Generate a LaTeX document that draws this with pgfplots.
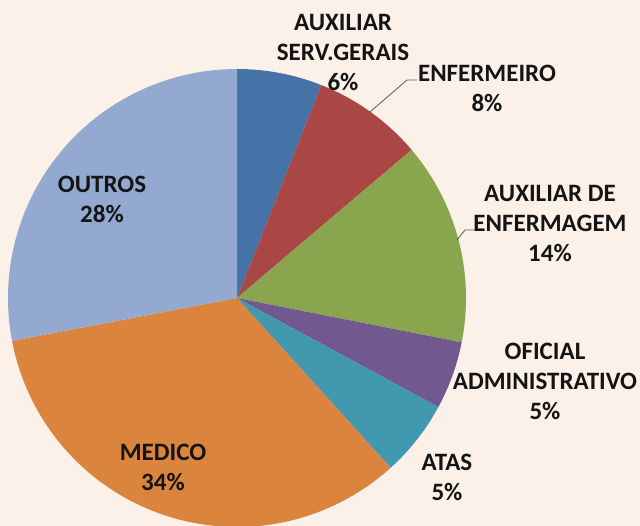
\documentclass[border=0pt]{standalone}
\usepackage{pgfplots}
\pgfplotsset{compat=1.18}
\usepackage{pgfplotstable}
\usepackage{fontspec}
\setmainfont{Carlito}
\definecolor{bg}{HTML}{FCF1E9}
\definecolor{pie0}{HTML}{4572A7}
\definecolor{pie1}{HTML}{AA4643}
\definecolor{pie2}{HTML}{89A54E}
\definecolor{pie3}{HTML}{71588F}
\definecolor{pie4}{HTML}{4198AF}
\definecolor{pie5}{HTML}{DB843D}
\definecolor{pie6}{HTML}{93A9CF}
\pgfplotstableread{
label value
AUXILIAR_SERV.GERAIS 6.0
ENFERMEIRO 7.8
AUXILIAR_DE_ENFERMAGEM 14.3
OFICIAL_ADMINISTRATIVO 4.8
ATAS 5.4
MEDICO 33.7
OUTROS 28.0
}\piedata
\begin{document}
\begin{tikzpicture}
\fill[bg] (0,0) rectangle (640bp,526bp);
\useasboundingbox (0,0) rectangle (640bp,526bp);
\begin{axis}[
  at={(0,0)}, anchor=south west,
  hide axis, scale only axis,
  width=640bp, height=526bp,
  xmin=-237, xmax=403, ymin=-228, ymax=298,
  clip=true,
]
\def\cum{0}
\pgfplotsforeachungrouped \i in {0,...,6} {
  \pgfplotstablegetelem{\i}{value}\of\piedata
  \let\val\pgfplotsretval
  \pgfmathsetmacro\a{90-3.6*\cum}
  \pgfmathsetmacro\b{90-3.6*(\cum+\val)}
  \edef\cmd{\noexpand\addplot[fill=pie\i, draw=none, domain=\b:\a, samples=90] ({229*cos(x)},{229*sin(x)}) -- (axis cs:0,0) -- cycle;}
  \cmd
  \pgfmathsetmacro\cum{\cum+\val}
}
\addplot[black!65, line width=0.8pt] coordinates {(133,186) (170,218) (180,218)};
\addplot[black!65, line width=0.8pt] coordinates {(220,58) (228,68) (240,68)};
\begin{scope}[every node/.style={align=center, font=\fontsize{25bp}{30bp}\selectfont\bfseries, text=black!92}]
\node at (axis cs:106,245) {AUXILIAR\\SERV.GERAIS\\6\%};
\node at (axis cs:250,210) {ENFERMEIRO\\8\%};
\node at (axis cs:313,74) {AUXILIAR DE\\ENFERMAGEM\\14\%};
\node at (axis cs:308,-83) {OFICIAL\\ADMINISTRATIVO\\5\%};
\node at (axis cs:210,-179) {ATAS\\5\%};
\node at (axis cs:-135,99) {OUTROS\\28\%};
\node at (axis cs:-74,-169) {MEDICO\\34\%};
\end{scope}
\end{axis}
\end{tikzpicture}
\end{document}
